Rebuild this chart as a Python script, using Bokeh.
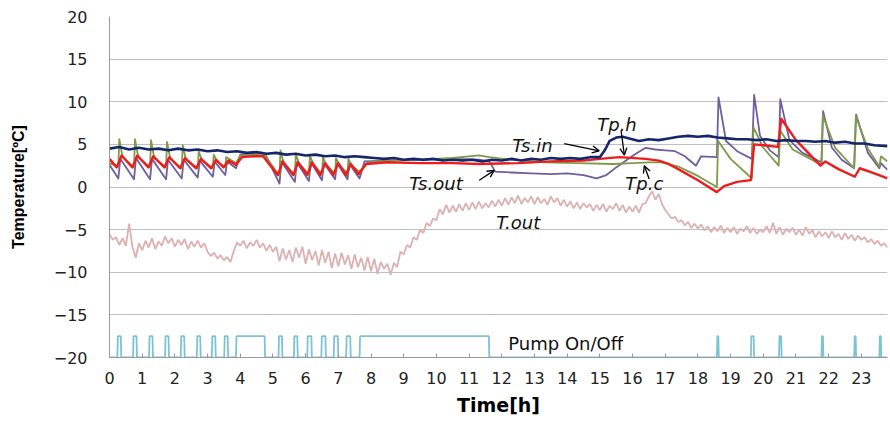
import numpy as np
from bokeh.plotting import figure
from bokeh.models import Range1d, FixedTicker, Arrow, OpenHead, Label
from bokeh.embed import file_html
from bokeh.resources import INLINE

# ---------------- data ----------------
HOUR_TICKS = list(range(0, 24))
TEMP_TICKS = [-20, -15, -10, -5, 0, 5, 10, 15, 20]

# outdoor temperature, sampled every 0.1 h from 0 to 23.8 h
T_OUT_STEP = 0.1
T_OUT = [-5.5, -6.2, -5.9, -6.8, -6.0, -6.9, -4.3, -7.0, -8.3, -6.6,
         -7.4, -6.3, -7.1, -6.0, -7.3, -6.4, -6.9, -5.8, -6.6, -6.0,
         -7.0, -6.2, -6.8, -6.1, -7.3, -6.4, -7.0, -6.3, -7.1, -6.6,
         -7.6, -8.1, -7.7, -8.4, -8.0, -8.6, -8.2, -8.8, -7.5, -6.5,
         -6.9, -6.3, -7.2, -6.5, -6.9, -6.2, -7.1, -6.6, -7.5, -6.8,
         -7.6, -7.0, -8.7, -7.2, -8.5, -7.4, -8.8, -7.1, -8.3, -7.0,
         -9.0, -7.3, -8.6, -7.5, -9.2, -7.4, -8.9, -7.6, -9.5, -7.8,
         -9.3, -7.7, -9.1, -8.0, -9.6, -7.9, -9.4, -8.3, -9.8, -8.2,
         -9.9, -8.4, -10.2, -8.8, -9.6, -9.0, -10.3, -8.9, -9.4, -7.6,
         -7.9, -6.8, -7.1, -5.9, -6.2, -5.0, -5.4, -4.2, -4.6, -3.7,
         -3.9, -2.6, -3.2, -2.1, -3.0, -2.2, -2.9, -2.0, -2.8, -1.9,
         -2.7, -1.8, -2.6, -1.7, -2.5, -1.9, -2.4, -1.6, -2.3, -1.5,
         -2.2, -1.3, -2.1, -1.2, -1.9, -1.0, -2.0, -1.3, -1.8, -1.1,
         -2.0, -1.2, -1.9, -1.4, -2.1, -1.1, -1.8, -1.3, -2.2, -1.5,
         -2.3, -1.7, -2.5, -1.8, -2.6, -1.9, -2.4, -2.0, -2.8, -2.1,
         -2.7, -2.0, -2.9, -2.2, -2.6, -1.9, -2.8, -2.1, -3.0, -2.3,
         -2.9, -2.2, -3.0, -2.0, -1.9, -1.1, -0.5, -1.5, -0.8, -2.0,
         -2.7, -3.2, -3.7, -3.5, -4.1, -3.9, -4.5, -4.1, -4.8, -4.3,
         -4.9, -4.4, -5.1, -4.6, -5.3, -4.7, -5.2, -4.5, -5.4, -4.8,
         -5.3, -4.7, -5.5, -4.9, -5.2, -4.6, -5.4, -4.8, -5.5, -5.0,
         -5.3, -4.6, -5.4, -4.2, -5.5, -4.7, -5.6, -4.9, -5.3, -4.8,
         -5.6, -5.0, -5.7, -4.7, -5.5, -5.1, -5.9, -5.2, -5.8, -5.3,
         -6.0, -5.2, -5.9, -5.5, -6.2, -5.4, -6.1, -5.6, -6.3, -5.7,
         -6.2, -5.9, -6.5, -6.1, -6.7, -6.3, -6.9, -6.6, -7.1]

TS_IN = [(0, 4.5), (0.3, 4.7), (0.6, 4.4), (0.9, 4.6), (1.2, 4.4), (1.5, 4.5), (1.8, 4.3),
         (2.1, 4.5), (2.4, 4.3), (2.7, 4.4), (3.0, 4.2), (3.3, 4.3), (3.6, 4.1), (3.9, 4.2),
         (4.2, 4.0), (4.5, 4.1), (4.8, 3.9), (5.1, 4.0), (5.4, 3.8), (5.7, 3.9), (6.0, 3.7),
         (6.3, 3.8), (6.6, 3.6), (6.9, 3.7), (7.2, 3.5), (7.5, 3.6), (7.8, 3.5), (8.1, 3.4),
         (8.4, 3.3), (8.7, 3.4), (9.0, 3.2), (9.3, 3.3), (9.6, 3.2), (9.9, 3.3), (10.2, 3.1),
         (10.5, 3.2), (10.8, 3.1), (11.1, 3.2), (11.4, 3.0), (11.7, 3.2), (12.0, 3.1),
         (12.3, 3.3), (12.6, 3.1), (12.9, 3.3), (13.2, 3.2), (13.5, 3.4), (13.8, 3.3),
         (14.1, 3.4), (14.4, 3.3), (14.7, 3.5), (15.0, 3.5), (15.15, 4.3), (15.3, 5.4),
         (15.5, 5.8), (15.7, 5.9), (15.9, 5.7), (16.2, 5.4), (16.5, 5.6), (16.8, 5.5),
         (17.1, 5.7), (17.4, 5.9), (17.7, 6.0), (18.0, 5.9), (18.3, 6.0), (18.6, 5.8),
         (18.9, 5.7), (19.2, 5.6), (19.5, 5.6), (19.8, 5.5), (20.1, 5.6), (20.4, 5.4),
         (20.7, 5.5), (21.0, 5.4), (21.3, 5.4), (21.6, 5.3), (21.9, 5.4), (22.2, 5.2),
         (22.5, 5.3), (22.8, 5.1), (23.1, 5.1), (23.4, 4.9), (23.8, 4.8)]

TS_OUT = [(0, 2.6), (0.27, 1.0), (0.33, 3.3), (0.75, 0.9), (0.81, 3.4), (1.24, 0.9), (1.30, 3.3),
          (1.73, 0.9), (1.79, 3.2), (2.21, 1.0), (2.27, 3.2), (2.70, 1.1), (2.76, 3.1),
          (3.16, 1.2), (3.22, 3.0), (3.54, 1.4), (3.60, 3.0), (3.87, 2.2), (4.0, 3.8),
          (4.4, 4.0), (4.76, 3.9), (5.2, 0.4), (5.26, 3.0), (5.67, 0.6), (5.73, 2.9),
          (6.10, 0.7), (6.16, 2.9), (6.50, 0.8), (6.56, 2.8), (6.90, 0.9), (6.96, 2.8),
          (7.28, 0.9), (7.34, 2.7), (7.65, 1.0), (7.8, 3.0), (8.5, 3.1), (9.5, 3.2),
          (10.5, 3.3), (11.3, 3.2), (11.62, 3.0), (11.8, 1.8), (12.3, 1.7), (12.9, 1.6),
          (13.5, 1.5), (14.0, 1.6), (14.5, 1.4), (14.9, 1.0), (15.2, 1.4), (15.5, 2.3),
          (15.8, 3.1), (16.1, 3.9), (16.4, 4.6), (16.7, 4.4), (17.0, 4.3), (17.3, 4.2),
          (17.6, 3.6), (17.94, 2.5), (18.1, 3.6), (18.58, 3.5), (18.63, 10.5), (18.86, 5.4),
          (19.2, 4.2), (19.65, 3.3), (19.72, 10.8), (19.9, 6.0), (20.2, 4.3), (20.47, 3.5),
          (20.52, 10.3), (20.8, 5.5), (21.2, 4.0), (21.78, 2.9), (21.83, 8.9), (22.1, 4.6),
          (22.4, 3.2), (22.78, 2.2), (22.84, 8.5), (23.2, 4.0), (23.55, 2.2), (23.6, 2.8),
          (23.8, 2.0)]

TP_C = [(0, 2.8), (0.27, 2.4), (0.30, 5.6), (0.40, 3.5), (0.75, 2.3), (0.78, 5.6), (0.88, 3.5),
        (1.24, 2.3), (1.27, 5.5), (1.37, 3.4), (1.73, 2.3), (1.76, 5.3), (1.86, 3.3),
        (2.21, 2.2), (2.24, 4.9), (2.34, 3.2), (2.70, 2.2), (2.73, 4.2), (2.83, 3.1),
        (3.16, 2.2), (3.19, 3.8), (3.29, 3.0), (3.54, 2.3), (3.57, 3.5), (3.87, 2.8),
        (4.0, 3.7), (4.4, 3.8), (4.76, 3.7), (5.2, 1.3), (5.23, 4.3), (5.33, 2.8),
        (5.67, 1.4), (5.70, 3.9), (5.80, 2.7), (6.10, 1.5), (6.13, 3.7), (6.23, 2.7),
        (6.50, 1.5), (6.53, 3.5), (6.63, 2.6), (6.90, 1.6), (6.93, 3.4), (7.03, 2.6),
        (7.28, 1.6), (7.31, 3.3), (7.41, 2.5), (7.65, 1.8), (7.9, 2.9), (8.5, 3.1),
        (9.5, 3.2), (10.5, 3.4), (11.3, 3.7), (11.62, 3.5), (12.3, 3.2), (13.3, 2.9),
        (14.3, 2.8), (15.4, 2.7), (16.0, 2.8), (16.5, 2.9), (16.9, 2.9), (17.4, 2.4),
        (18.0, 1.3), (18.58, 0.0), (18.62, 5.4), (19.0, 3.3), (19.65, 1.0), (19.70, 7.0),
        (20.0, 4.6), (20.47, 2.5), (20.52, 6.6), (20.9, 4.4), (21.78, 2.6), (21.82, 8.4),
        (22.2, 4.6), (22.78, 2.2), (22.83, 8.3), (23.2, 4.5), (23.55, 2.4), (23.6, 3.6),
        (23.8, 3.0)]

TP_H = [(0, 3.3), (0.22, 2.3), (0.37, 3.7), (0.70, 2.3), (0.85, 3.7), (1.19, 2.3), (1.34, 3.6),
        (1.68, 2.3), (1.83, 3.5), (2.16, 2.2), (2.31, 3.4), (2.65, 2.2), (2.80, 3.3),
        (3.11, 2.2), (3.26, 3.2), (3.49, 2.3), (3.64, 3.1), (3.87, 2.6), (4.05, 3.5),
        (4.4, 3.6), (4.7, 3.6), (4.9, 2.6), (5.15, 1.4), (5.3, 3.0), (5.62, 1.4), (5.77, 2.9),
        (6.05, 1.4), (6.20, 2.9), (6.45, 1.4), (6.60, 2.8), (6.85, 1.4), (7.00, 2.8),
        (7.23, 1.4), (7.38, 2.7), (7.62, 1.5), (7.85, 2.7), (8.5, 2.9), (9.5, 2.8),
        (10.5, 2.8), (11.3, 2.7), (12.5, 2.8), (13.5, 3.0), (14.5, 3.1), (15.0, 3.3),
        (15.6, 3.5), (16.4, 3.3), (16.8, 3.1), (17.1, 2.7), (17.4, 2.1), (18.0, 0.8),
        (18.58, -0.6), (18.8, 0.1), (19.2, 0.6), (19.62, 0.8), (19.72, 5.0), (20.0, 4.9),
        (20.45, 4.7), (20.55, 8.0), (21.0, 5.5), (21.75, 2.5), (21.9, 3.0), (22.3, 2.1),
        (22.8, 1.2), (22.95, 2.2), (23.4, 1.6), (23.8, 1.0)]

# pump on intervals (start h, end h)
PUMP_ON = [(0.24, 0.36), (0.72, 0.84), (1.21, 1.33), (1.70, 1.82), (2.18, 2.30),
           (2.67, 2.79), (3.13, 3.25), (3.51, 3.63), (3.87, 4.76), (5.17, 5.29),
           (5.64, 5.76), (6.05, 6.19), (6.48, 6.62), (6.86, 7.00), (7.24, 7.38),
           (7.65, 11.62), (18.58, 18.64), (19.62, 19.72), (20.48, 20.56), (21.78, 21.84),
           (22.78, 22.84), (23.55, 23.61)]
PUMP_OFF_LEVEL = -20.0
PUMP_ON_LEVEL = -17.5

X_MAX = 23.8

# ---------------- figure ----------------
p = figure(width=888, height=418, x_range=Range1d(0, X_MAX), y_range=Range1d(-20, 20),
           output_backend="svg", toolbar_location=None,
           min_border_left=109, min_border_right=1, min_border_top=16, min_border_bottom=58)
p.outline_line_color = None
p.background_fill_color = "white"
p.border_fill_color = "white"

p.xgrid.visible = False
p.ygrid.grid_line_color = "#BFBFBF"
p.ygrid.grid_line_width = 1
p.yaxis.ticker = FixedTicker(ticks=TEMP_TICKS)
p.xaxis.ticker = FixedTicker(ticks=HOUR_TICKS)

for ax in (p.xaxis, p.yaxis):
    ax.minor_tick_line_color = None
    ax.axis_line_color = "#9A9A9A"
    ax.major_tick_line_color = "#9A9A9A"
    ax.major_label_text_font = "DejaVu Sans"
    ax.major_label_text_font_size = "16px"
    ax.major_label_text_color = "#222222"
    ax.axis_label_text_font_style = "bold"
    ax.axis_label_text_color = "black"

p.yaxis.major_tick_out = 0
p.yaxis.major_tick_in = 0
p.yaxis.major_label_standoff = 22
p.yaxis.axis_label = "Temperature[ºC]"
p.yaxis.axis_label_text_font = "Liberation Sans"
p.yaxis.axis_label_text_font_size = "16px"
p.yaxis.axis_label_standoff = 24

p.xaxis.major_tick_out = 0
p.xaxis.major_tick_in = 4
p.xaxis.major_label_standoff = 14
p.xaxis.axis_label = "Time[h]"
p.xaxis.axis_label_text_font = "DejaVu Sans"
p.xaxis.axis_label_text_font_size = "19px"
p.xaxis.axis_label_standoff = 7

# outdoor temperature
t_out_x = np.arange(len(T_OUT)) * T_OUT_STEP
p.line(t_out_x, T_OUT, line_color="#DDB1B1", line_width=1.8)

# pump on/off step signal
px, py = [0.0], [PUMP_OFF_LEVEL]
for a, b in PUMP_ON:
    px += [a, a + 0.015, b - 0.015, b]
    py += [PUMP_OFF_LEVEL, PUMP_ON_LEVEL, PUMP_ON_LEVEL, PUMP_OFF_LEVEL]
px.append(X_MAX)
py.append(PUMP_OFF_LEVEL)
p.line(px, py, line_color="#7DC3D3", line_width=1.8)


def draw(series, color, width):
    xs = [s[0] for s in series]
    ys = [s[1] for s in series]
    p.line(xs, ys, line_color=color, line_width=width, line_join="round")


draw(TS_OUT, "#6E5F9E", 1.8)
draw(TP_C, "#7F9A48", 1.8)
draw(TP_H, "#EE1C1C", 2.4)
draw(TS_IN, "#15266B", 2.6)

# labels
lab_font = "DejaVu Sans"
for x, y, txt in [(12.32, 4.9, "Ts.in"), (14.92, 7.3, "Tp.h"), (9.17, 0.45, "Ts.out"),
                  (15.78, 0.45, "Tp.c"), (11.83, -4.2, "T.out")]:
    p.add_layout(Label(x=x, y=y, text=txt, text_font=lab_font, text_font_size="18px",
                       text_font_style="italic", text_baseline="middle", text_color="#111111"))
p.add_layout(Label(x=12.2, y=-18.35, text="Pump On/Off", text_font=lab_font,
                   text_font_size="18px", text_baseline="middle", text_color="#111111"))

for x0, y0, x1, y1 in [(13.91, 5.1, 14.98, 4.25), (15.65, 6.6, 15.75, 3.75),
                       (11.31, 0.8, 11.77, 1.95), (16.51, 0.95, 16.36, 2.5)]:
    p.add_layout(Arrow(end=OpenHead(size=7, line_width=1.3, line_color="black"),
                       x_start=x0, y_start=y0, x_end=x1, y_end=y1,
                       line_width=1.3, line_color="black"))

open("out.html", "w").write(file_html(p, INLINE))
